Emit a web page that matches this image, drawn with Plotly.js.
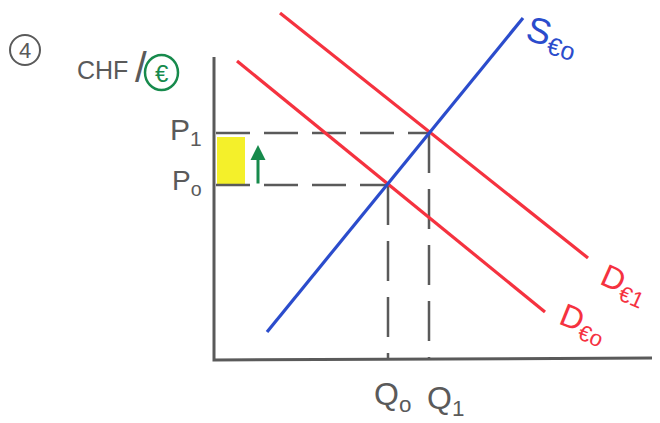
<!DOCTYPE html>
<html>
<head>
<meta charset="utf-8">
<script src="https://cdn.plot.ly/plotly-3.0.1.min.js"></script>
<style>
  html, body { margin: 0; padding: 0; background: #fff; }
  #chart { width: 660px; height: 423px; }
</style>
</head>
<body>
<div id="chart"></div>
<script>
// Quantity (Q) and price (P) in schematic units, origin at the axes corner
const supplyQ = [53, 309];
const supplyP = [28, 342];
const demand0Q = [23, 331];
const demand0P = [299, 48];
const demand1Q = [66, 374];
const demand1P = [347, 102];
// Equilibria before and after the demand shift
const eqQ = [174, 215];
const eqP = [175, 227];
const eqLabelsQ = ['Q<sub>o</sub>', 'Q<sub>1</sub>'];
const eqLabelsP = ['P<sub>o</sub>', 'P<sub>1</sub>'];
const axisQMax = 438;
const axisPMax = 303;

const grey = '#5a5a5a';
const red = '#f5323f';
const blue = '#2b4ccc';
const green = '#178a4c';
const hand = '"Liberation Sans", "DejaVu Sans", sans-serif';

const traces = [];

// Highlighted price increase, between P0 and P1 along the price axis
traces.push({
  x: [3, 31, 31, 3, 3],
  y: [eqP[0], eqP[0], eqP[1] - 4, eqP[1] - 4, eqP[0]],
  mode: 'lines', fill: 'toself', fillcolor: '#f4f02a',
  line: {width: 0, color: '#f4f02a'}, hoverinfo: 'skip'
});

// Guide lines from each equilibrium to the axes
for (let i = 0; i < eqQ.length; i++) {
  traces.push({
    x: [2, eqQ[i]], y: [eqP[i], eqP[i]], mode: 'lines',
    line: {color: grey, width: 2.5, dash: '34px,14px'}, hoverinfo: 'skip'
  });
  traces.push({
    x: [eqQ[i], eqQ[i]], y: [eqP[i], 0], mode: 'lines',
    line: {color: grey, width: 2.5, dash: '40px,16px'}, hoverinfo: 'skip'
  });
}

// Axes
traces.push({
  x: [0, 0, axisQMax], y: [axisPMax, 0, 2], mode: 'lines',
  line: {color: grey, width: 3}, hoverinfo: 'skip'
});

// Demand curves
traces.push({x: demand0Q, y: demand0P, mode: 'lines', line: {color: red, width: 3.2}});
traces.push({x: demand1Q, y: demand1P, mode: 'lines', line: {color: red, width: 3.2}});
// Supply curve
traces.push({x: supplyQ, y: supplyP, mode: 'lines', line: {color: blue, width: 3.2}});

const annotations = [
  // price rise arrow
  {x: 44, y: eqP[1] - 12, ax: 44, ay: eqP[0], axref: 'x', ayref: 'y',
   showarrow: true, arrowhead: 2, arrowsize: 1, arrowwidth: 3, arrowcolor: green, text: ''},
  // price labels
  {x: -10, y: eqP[1] + 2, xanchor: 'right', yanchor: 'middle', showarrow: false,
   text: eqLabelsP[1], font: {family: hand, size: 30, color: grey}},
  {x: -10, y: eqP[0] + 3, xanchor: 'right', yanchor: 'middle', showarrow: false,
   text: eqLabelsP[0], font: {family: hand, size: 28, color: grey}},
  // quantity labels
  {x: eqQ[0] + 4, y: -36, xanchor: 'center', yanchor: 'middle', showarrow: false,
   text: eqLabelsQ[0], font: {family: hand, size: 32, color: grey}},
  {x: eqQ[1] + 16, y: -40, xanchor: 'center', yanchor: 'middle', showarrow: false,
   text: eqLabelsQ[1], font: {family: hand, size: 32, color: grey}},
  // curve labels
  {x: 338, y: 323, xanchor: 'center', yanchor: 'middle', showarrow: false, textangle: 16,
   text: 'S<sub>€o</sub>', font: {family: hand, size: 36, color: blue}},
  {x: 410, y: 75, xanchor: 'center', yanchor: 'middle', showarrow: false, textangle: 24,
   text: 'D<sub>€1</sub>', font: {family: hand, size: 32, color: red}},
  {x: 369, y: 36, xanchor: 'center', yanchor: 'middle', showarrow: false, textangle: 22,
   text: 'D<sub>€o</sub>', font: {family: hand, size: 32, color: red}},
  // heading: item number and exchange rate
  {x: -189, y: 310, xanchor: 'center', yanchor: 'middle', showarrow: false,
   text: '4', font: {family: hand, size: 22, color: grey}},
  {x: -112, y: 290, xanchor: 'center', yanchor: 'middle', showarrow: false,
   text: 'CHF', font: {family: hand, size: 25, color: grey}},
  {x: -73, y: 293, xanchor: 'center', yanchor: 'middle', showarrow: false,
   text: '/', font: {family: hand, size: 42, color: grey}},
  {x: -52, y: 287, xanchor: 'center', yanchor: 'middle', showarrow: false,
   text: '€', font: {family: hand, size: 24, color: green}}
];

const shapes = [
  {type: 'circle', xref: 'x', yref: 'y', x0: -204, x1: -174, y0: 295, y1: 325,
   line: {color: grey, width: 2}},
  {type: 'circle', xref: 'x', yref: 'y', x0: -69, x1: -36, y0: 270, y1: 305,
   line: {color: green, width: 2.5}}
];

const layout = {
  width: 660, height: 423,
  margin: {l: 0, r: 0, t: 0, b: 0},
  paper_bgcolor: '#ffffff', plot_bgcolor: '#ffffff',
  showlegend: false,
  xaxis: {range: [-214, 446], visible: false, fixedrange: true},
  yaxis: {range: [-63, 360], visible: false, fixedrange: true},
  annotations: annotations,
  shapes: shapes
};

Plotly.newPlot('chart', traces, layout, {staticPlot: true, displayModeBar: false});
</script>
</body>
</html>
